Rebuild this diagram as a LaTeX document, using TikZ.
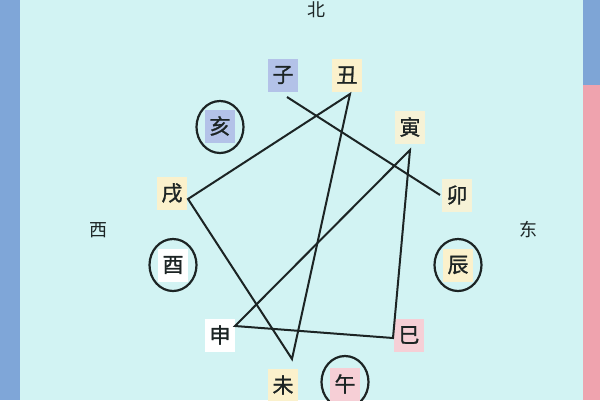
\documentclass[tikz,border=0pt]{standalone}
\usepackage{fontspec}
\setmainfont{Noto Sans CJK SC}
\newfontfamily\boldcjk[FakeBold=1.2]{Noto Sans CJK SC}
\usetikzlibrary{shapes.geometric}
\definecolor{bgc}{HTML}{D2F3F3}
\definecolor{leftc}{HTML}{7FA6D8}
\definecolor{rightc}{HTML}{EFA3AE}
\definecolor{topr}{HTML}{7EA5D6}
\definecolor{lav}{HTML}{B3C2E8}
\definecolor{yel}{HTML}{FBF1CC}
\definecolor{yel2}{HTML}{F6F2D6}
\definecolor{pnk}{HTML}{F6CFD6}
\definecolor{ink}{HTML}{1C2424}
\tikzset{
  cbox/.style={inner sep=0pt, minimum width=30pt, minimum height=33pt, font=\boldcjk\fontsize{21}{21}\selectfont, text=ink},
  dirlabel/.style={font=\fontsize{18}{18}\selectfont, text=ink},
  ring/.style={ellipse, draw=ink, line width=2.2pt, minimum width=47pt, minimum height=52pt, inner sep=0pt},
  link/.style={draw=ink, line width=2pt, line join=miter}
}
\begin{document}
\begin{tikzpicture}[x=1pt,y=-1pt]
\useasboundingbox (0,0) rectangle (600,400);
\fill[bgc] (0,0) rectangle (600,400);
\fill[leftc] (0,0) rectangle (20,400);
\fill[rightc] (583,0) rectangle (600,400);
\fill[topr] (583,0) rectangle (600,85);
% direction labels
\node[dirlabel] (bei) at (316,10) {北};
\node[dirlabel] (xi) at (98,230) {西};
\node[dirlabel] (dong) at (528,230) {东};
% rings
\node[ring] (haiR) at (220,127) {};
\node[ring] (youR) at (173,265) {};
\node[ring] (chenR) at (458,265) {};
\node[ring] (wuR) at (345,382) {};
% branch boxes
\node[cbox, fill=lav] (zi) at (283,75) {子};
\node[cbox, fill=yel] (chou) at (347,75) {丑};
\node[cbox, fill=lav] (hai) at (220,126) {亥};
\node[cbox, fill=yel2] (yin) at (410,127) {寅};
\node[cbox, fill=yel] (xu) at (172,193) {戌};
\node[cbox, fill=yel2] (mao) at (457,195) {卯};
\node[cbox, fill=white] (you) at (173,265) {酉};
\node[cbox, fill=yel] (chen) at (458,265) {辰};
\node[cbox, fill=white] (shen) at (220,335) {申};
\node[cbox, fill=pnk] (si) at (409,335) {巳};
\node[cbox, fill=yel] (wei) at (283,385) {未};
\node[cbox, fill=pnk] (wu) at (345,384) {午};
% vertices
\coordinate (vzi) at (287,97);
\coordinate (vmao) at (440,195);
\coordinate (vchou) at (350,94);
\coordinate (vxu) at (188,199);
\coordinate (vwei) at (292,359);
\coordinate (vyin) at (410,150);
\coordinate (vshen) at (235,326);
\coordinate (vsi) at (393,338);
% connectors
\draw[link] (vzi) -- (vmao);
\draw[link] (vchou) -- (vxu) -- (vwei) -- cycle;
\draw[link] (vyin) -- (vshen) -- (vsi) -- cycle;
\end{tikzpicture}
\end{document}
